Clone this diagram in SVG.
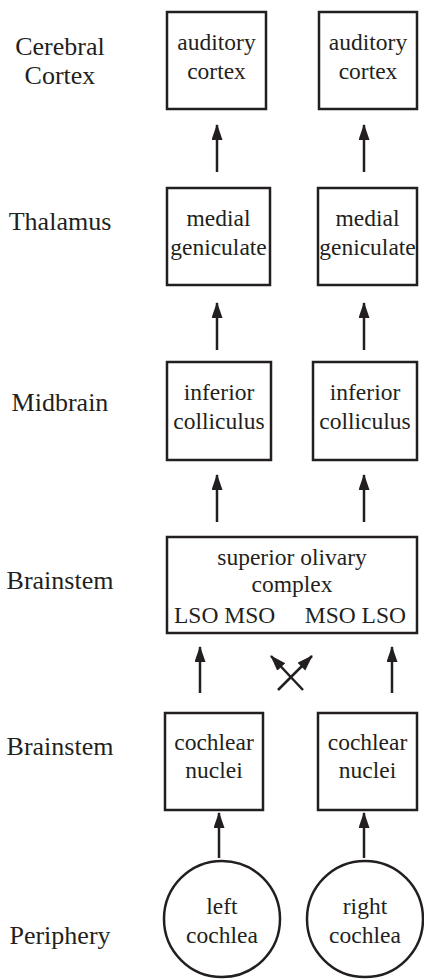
<svg xmlns="http://www.w3.org/2000/svg" width="424" height="980" viewBox="0 0 424 980">
<style>
.bx{fill:#fff;stroke:#231f20;stroke-width:2.5}
.t{font-family:'Liberation Serif','DejaVu Serif',serif;font-size:23.5px;fill:#231f20;text-anchor:middle}
.lb{font-family:'Liberation Serif','DejaVu Serif',serif;font-size:26px;fill:#231f20;text-anchor:middle}
.st{text-anchor:start}
.en{text-anchor:end}
.ar{stroke:#231f20;stroke-width:2.5;fill:none;marker-end:url(#ah)}
</style>
<defs>
<marker id="ah" markerUnits="userSpaceOnUse" markerWidth="16" markerHeight="12" refX="15" refY="5.5" orient="auto">
<path d="M0,0 L16,5.5 L0,11 z" fill="#231f20"/>
</marker>
</defs>
<rect width="424" height="980" fill="#fff"/>
<g id="labels">
<text class="lb" x="60" y="55">Cerebral</text>
<text class="lb" x="60" y="84">Cortex</text>
<text class="lb" x="60" y="230">Thalamus</text>
<text class="lb" x="60" y="411">Midbrain</text>
<text class="lb" x="60" y="589">Brainstem</text>
<text class="lb" x="60" y="755">Brainstem</text>
<text class="lb" x="60" y="944">Periphery</text>
</g>
<g id="ac-left"><rect class="bx" x="167" y="12" width="99" height="97"/><text class="t" x="216.5" y="50">auditory</text><text class="t" x="216.5" y="79">cortex</text></g>
<g id="ac-right"><rect class="bx" x="319" y="12" width="98" height="97"/><text class="t" x="368" y="50">auditory</text><text class="t" x="368" y="79">cortex</text></g>
<g id="mg-left"><rect class="bx" x="167" y="188" width="103" height="97"/><text class="t" x="218.5" y="226">medial</text><text class="t" x="218.5" y="255">geniculate</text></g>
<g id="mg-right"><rect class="bx" x="318" y="188" width="99" height="97"/><text class="t" x="367.5" y="226">medial</text><text class="t" x="367.5" y="255">geniculate</text></g>
<g id="ic-left"><rect class="bx" x="167" y="362" width="104" height="98"/><text class="t" x="219" y="400">inferior</text><text class="t" x="219" y="429">colliculus</text></g>
<g id="ic-right"><rect class="bx" x="313" y="362" width="104" height="98"/><text class="t" x="365" y="400">inferior</text><text class="t" x="365" y="429">colliculus</text></g>
<g id="soc"><rect class="bx" x="167" y="537" width="250" height="96"/><text class="t" x="292" y="565">superior olivary</text><text class="t" x="292" y="592">complex</text><text class="t st" x="174" y="623">LSO MSO</text><text class="t en" x="406" y="623">MSO LSO</text></g>
<g id="cn-left"><rect class="bx" x="165" y="713" width="98" height="97"/><text class="t" x="214" y="750">cochlear</text><text class="t" x="214" y="778">nuclei</text></g>
<g id="cn-right"><rect class="bx" x="318" y="713" width="99" height="97"/><text class="t" x="367.5" y="750">cochlear</text><text class="t" x="367.5" y="778">nuclei</text></g>
<g id="left-cochlea"><circle class="bx" cx="222" cy="919" r="58"/><text class="t" x="222" y="914">left</text><text class="t" x="222" y="943">cochlea</text></g>
<g id="right-cochlea"><circle class="bx" cx="365" cy="919" r="58"/><text class="t" x="365" y="914">right</text><text class="t" x="365" y="943">cochlea</text></g>
<g id="connectors">
<line class="ar" x1="217" y1="172" x2="217" y2="125"/>
<line class="ar" x1="364" y1="172" x2="364" y2="125"/>
<line class="ar" x1="217" y1="350" x2="217" y2="303"/>
<line class="ar" x1="364" y1="350" x2="364" y2="303"/>
<line class="ar" x1="217" y1="522" x2="217" y2="475"/>
<line class="ar" x1="364" y1="522" x2="364" y2="475"/>
<line class="ar" x1="200" y1="693" x2="200" y2="647"/>
<line class="ar" x1="392" y1="693" x2="392" y2="647"/>
<line class="ar" x1="303" y1="690" x2="271" y2="656"/>
<line class="ar" x1="278" y1="690" x2="312" y2="656"/>
<line class="ar" x1="219" y1="858" x2="219" y2="813"/>
<line class="ar" x1="364" y1="858" x2="364" y2="813"/>
</g>
</svg>
